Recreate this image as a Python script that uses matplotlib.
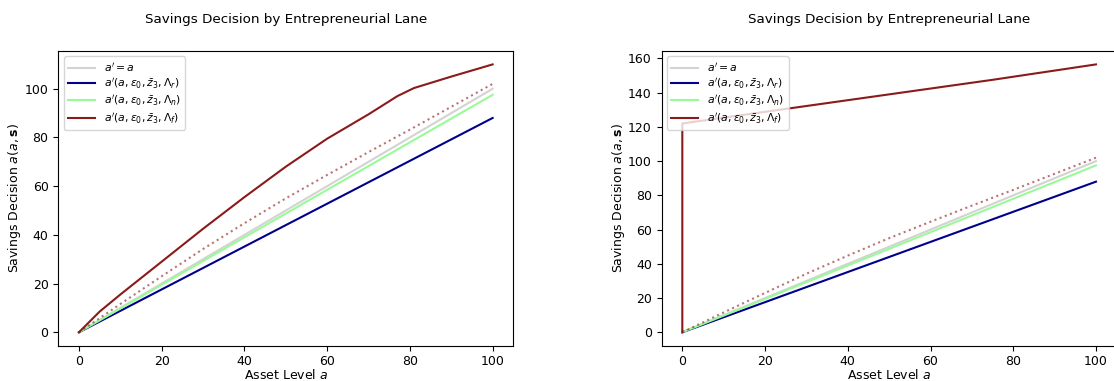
import numpy as np
import matplotlib.pyplot as plt

plt.rcParams['font.size'] = 9

# asset grid and policy values
a_grid = [0, 10, 20, 30, 40, 50, 60, 70, 80, 90, 100]
a_identity = [0, 10, 20, 30, 40, 50, 60, 70, 80, 90, 100]
a_rich = [0, 8.8, 17.6, 26.4, 35.2, 44.0, 52.8, 61.6, 70.4, 79.2, 88.0]
a_normal = [0, 9.75, 19.5, 29.25, 39.0, 48.75, 58.5, 68.25, 78.0, 87.75, 97.5]
a_dotted = [0, 11.6, 23.0, 34.2, 44.8, 55.0, 64.6, 74.0, 83.2, 92.6, 102.0]

a_firm_left_x = [0, 5, 10, 20, 30, 40, 50, 60, 70, 77, 81, 90, 100]
a_firm_left = [0, 8.5, 15.5, 29, 42.5, 55.5, 68, 79.5, 89.5, 97, 100.3, 105, 110]

a_firm_right_x = [0, 0, 25, 50, 75, 100]
a_firm_right = [0, 122, 130.5, 139, 147.5, 156.5]

red = '#8b1a1a'

fig, (ax1, ax2) = plt.subplots(1, 2, figsize=(11.14, 3.81), dpi=100)
fig.subplots_adjust(left=0.0523, right=1.0024, bottom=0.0927, top=0.8661, wspace=0.326)

for ax, fx, fy in [(ax1, a_firm_left_x, a_firm_left), (ax2, a_firm_right_x, a_firm_right)]:
    ax.plot(a_grid, a_identity, color='lightgray', label=r"$a'=a$")
    ax.plot(a_grid, a_rich, color='darkblue', label=r"$a'(a,\varepsilon_0,\bar{z}_3,\Lambda_r)$")
    ax.plot(a_grid, a_normal, color='palegreen', label=r"$a'(a,\varepsilon_0,\bar{z}_3,\Lambda_n)$")
    ax.plot(fx, fy, color=red, label=r"$a'(a,\varepsilon_0,\bar{z}_3,\Lambda_f)$")
    ax.plot(a_grid, a_dotted, color=red, alpha=0.6, linestyle=':')
    ax.set_title("Savings Decision by Entrepreneurial Lane", pad=20, fontsize=9.7)
    ax.set_xlabel("Asset Level $a$", labelpad=0)
    ax.set_ylabel(r"Savings Decision $a(a,\mathbf{s})$", labelpad=1)
    ax.legend(loc='upper left', fontsize=7.8, handlelength=2.5, labelspacing=0.25)

fig.savefig('out.png')
